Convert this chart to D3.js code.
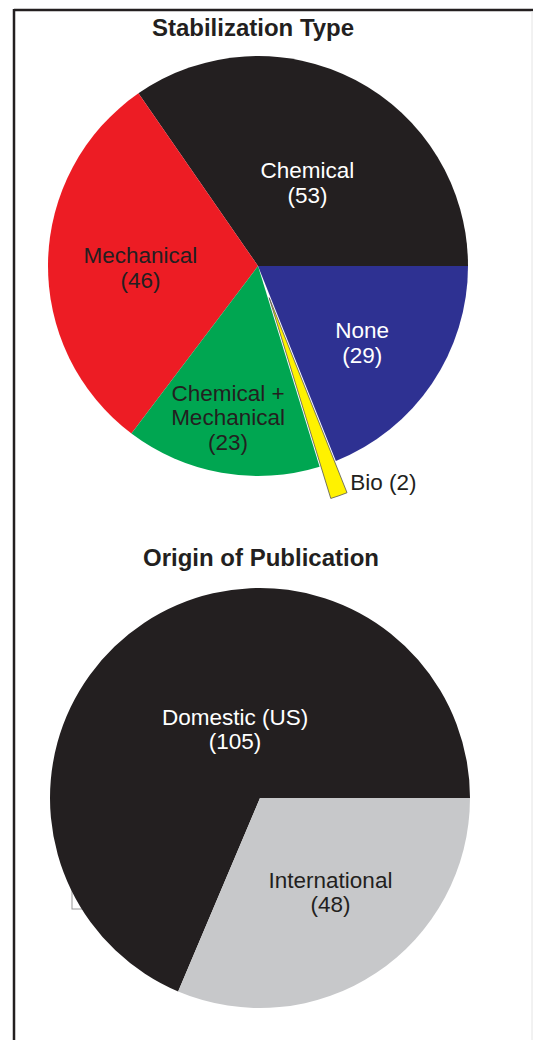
<!DOCTYPE html>
<html>
<head>
<meta charset="utf-8">
<script src="https://cdn.jsdelivr.net/npm/d3@7"></script>
<style>
  body { margin: 0; background: #fff; }
  svg { display: block; font-family: "Liberation Sans", Arial, sans-serif; }
</style>
</head>
<body>
<div id="chart"></div>
<script>
// data
var stabTypes = ["Chemical", "Mechanical", "Chemical + Mechanical", "Bio", "None"];
var stabCounts = [53, 46, 23, 2, 29];
var stabColors = ["#231f20", "#ed1c24", "#00a651", "#fff200", "#2e3192"];

var originTypes = ["Domestic (US)", "International"];
var originCounts = [105, 48];
var originColors = ["#231f20", "#c7c8ca"];

var w = 533, h = 1040;

var svg = d3.select("#chart")
    .append("svg")
    .attr("width", w)
    .attr("height", h);

// frame
svg.append("line")
    .attr("x1", 14).attr("x2", w).attr("y1", 10).attr("y2", 10)
    .attr("stroke", "#231f20").attr("stroke-width", 2.5);
svg.append("line")
    .attr("x1", 14).attr("x2", 14).attr("y1", 9).attr("y2", h)
    .attr("stroke", "#231f20").attr("stroke-width", 2.5);
svg.append("line")
    .attr("x1", 532).attr("x2", 532).attr("y1", 11).attr("y2", h)
    .attr("stroke", "#e4e4e4").attr("stroke-width", 1);

// legend box left behind the lower pie
svg.append("rect")
    .attr("x", 72).attr("y", 850).attr("width", 90).attr("height", 59)
    .attr("fill", "#fff").attr("stroke", "#9a9a9a").attr("stroke-width", 1);

var R = 210;

// pies start at 3 o'clock and run counterclockwise
var pie = d3.pie().sort(null)
    .startAngle(Math.PI / 2)
    .endAngle(Math.PI / 2 - 2 * Math.PI);

var arc = d3.arc().innerRadius(0).outerRadius(R);

function drawPie(opts) {
    var g = svg.append("g")
        .attr("transform", "translate(" + opts.cx + "," + opts.cy + ")");

    var slices = pie(opts.values);

    g.selectAll("path")
        .data(slices)
        .enter()
        .append("path")
        .attr("d", arc)
        .attr("fill", function(d, i) { return opts.colors[i]; })
        .attr("stroke", function(d, i) { return opts.explode[i] ? "#555" : "none"; })
        .attr("stroke-width", 0.8)
        .attr("transform", function(d, i) {
            var m = (d.startAngle + d.endAngle) / 2;
            var off = opts.explode[i] * R;
            return "translate(" + (Math.sin(m) * off) + "," + (-Math.cos(m) * off) + ")";
        });

    // labels, placed along each slice's middle angle
    slices.forEach(function(d, i) {
        var m = (d.startAngle + d.endAngle) / 2 + opts.nudge[i] * Math.PI / 180;
        var r = opts.labelR[i] * R;
        var x = Math.sin(m) * r, y = -Math.cos(m) * r;
        var lines = opts.lines[i];
        var t = g.append("text")
            .attr("text-anchor", opts.anchor[i])
            .attr("fill", opts.textColors[i])
            .style("font-size", "22.5px");
        lines.forEach(function(s, k) {
            t.append("tspan")
                .attr("x", x)
                .attr("y", y + (k - (lines.length - 1) / 2) * 24.5 + 8)
                .text(s);
        });
    });

    svg.append("text")
        .attr("x", opts.titleX)
        .attr("y", opts.titleY)
        .attr("text-anchor", "middle")
        .attr("fill", "#231f20")
        .attr("font-weight", "bold")
        .style("font-size", "24px")
        .text(opts.title);
}

drawPie({
    cx: 258, cy: 266,
    title: "Stabilization Type", titleX: 253, titleY: 36,
    values: stabCounts,
    colors: stabColors,
    explode: [0, 0, 0, 0.16, 0],
    lines: stabTypes.map(function(t, i) {
        if (t == "Chemical + Mechanical") return ["Chemical +", "Mechanical", "(" + stabCounts[i] + ")"];
        if (t == "Bio") return [t + " (" + stabCounts[i] + ")"];
        return [t, "(" + stabCounts[i] + ")"];
    }),
    textColors: ["#fff", "#231f20", "#231f20", "#231f20", "#fff"],
    labelR: [0.462, 0.56, 0.735, 1.118, 0.615],
    nudge: [3, -1.9, 1.2, -3.7, 2.1],
    anchor: ["middle", "middle", "middle", "start", "middle"]
});

drawPie({
    cx: 260, cy: 798,
    title: "Origin of Publication", titleX: 261, titleY: 566,
    values: originCounts,
    colors: originColors,
    explode: [0, 0],
    lines: originTypes.map(function(t, i) { return [t, "(" + originCounts[i] + ")"]; }),
    textColors: ["#fff", "#231f20"],
    labelR: [0.35, 0.56],
    nudge: [13.7, -3.3],
    anchor: ["middle", "middle"]
});
</script>
</body>
</html>
